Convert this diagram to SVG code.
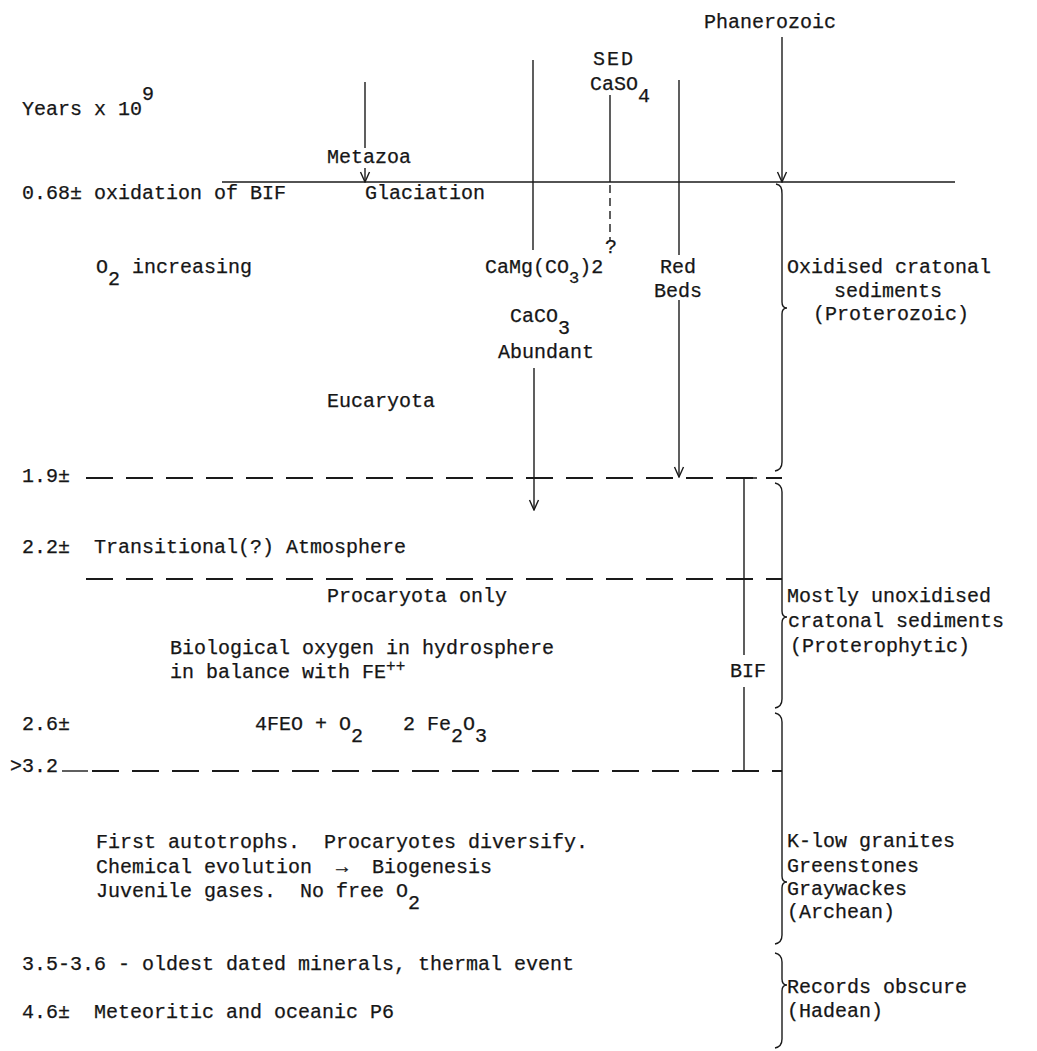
<svg xmlns="http://www.w3.org/2000/svg" width="1037" height="1051" viewBox="0 0 1037 1051" xml:space="preserve">
<style>
.t{font-family:"Liberation Mono","DejaVu Sans Mono",monospace;font-size:20px;fill:#161616;stroke:#161616;stroke-width:0.25;white-space:pre}
.m{text-anchor:middle}
.ln{stroke:#1a1a1a;stroke-width:1.4;fill:none}
.ds{stroke:#1a1a1a;stroke-width:1.8;fill:none;stroke-dasharray:27 13}
.sd{stroke:#1a1a1a;stroke-width:1.4;fill:none;stroke-dasharray:8 5}
.br{stroke:#1a1a1a;stroke-width:1.4;fill:none}
</style>
<defs>
<marker id="arr" viewBox="-11 -6 12 12" refX="0" refY="0" markerWidth="12" markerHeight="12" markerUnits="userSpaceOnUse" orient="auto">
<path d="M-10,-4.5 L0,0 L-10,4.5" fill="none" stroke="#1a1a1a" stroke-width="1.4"/>
</marker>
</defs>
<rect width="1037" height="1051" fill="#fff"/>

<g id="connectors">
<path class="ln" d="M222,182 H955"/>
<path class="ln" d="M365,82 V148"/>
<path class="ln" d="M365,168 V182" marker-end="url(#arr)"/>
<path class="ln" d="M533,60 V250"/>
<path class="ln" d="M610,95 V182"/>
<path class="sd" d="M610,185 V241"/>
<path class="ln" d="M679,80 V255"/>
<path class="ln" d="M679,300 V477" marker-end="url(#arr)"/>
<path class="ln" d="M782,37 V182" marker-end="url(#arr)"/>
<path class="ln" d="M534,368 V510" marker-end="url(#arr)"/>
<path class="ds" d="M86,478 H782"/>
<path class="ds" d="M86,579 H782"/>
<path class="ln" d="M62,771 H88"/>
<path class="ds" d="M92,771 H782"/>
<path class="ln" d="M757,478 H744 V655"/>
<path class="ln" d="M744,687 V771"/>
</g>

<g id="braces">
<path id="brace-proterozoic" class="br" d="M776,184 C781,185 782,188 782,194 L782,302 C782,306 784,308 787,308 C784,308 782,310 782,314 L782,462 C782,467 780,470 775,471"/>
<path id="brace-proterophytic" class="br" d="M775,483 C780,484 782,487 782,492 L782,611 C782,615 784,617 787,617 C784,617 782,619 782,623 L782,699 C782,704 780,707 775,708"/>
<path id="brace-archean" class="br" d="M775,713 C780,714 782,717 782,722 L782,876 C782,880 784,882 787,882 C784,882 782,884 782,888 L782,935 C782,940 780,943 775,944"/>
<path id="brace-hadean" class="br" d="M775,953 C780,954 782,957 782,962 L782,979 C782,983 784,985 787,985 C784,985 782,987 782,991 L782,1039 C782,1044 780,1047 775,1048"/>
</g>

<g id="axis-title"><text class="t" x="22" y="115">Years x 10<tspan dx="0" dy="-15">9</tspan></text></g>
<g id="t068"><text class="t" x="22" y="199">0.68± oxidation of BIF</text></g>
<g id="metazoa"><text class="t" x="327" y="163">Metazoa</text></g>
<g id="glaciation"><text class="t" x="365" y="199">Glaciation</text></g>
<g id="phanerozoic"><text class="t m" x="770" y="28">Phanerozoic</text></g>
<g id="sed-caso4">
<text class="t m" x="614" y="65" letter-spacing="2">SED</text>
<text class="t" x="590" y="90">CaSO<tspan dy="12">4</tspan></text>
<text class="t" x="605" y="253" font-size="16">?</text>
</g>
<g id="o2-increasing"><text class="t" x="96" y="273">O<tspan dy="12">2</tspan><tspan dy="-12"> increasing</tspan></text></g>
<g id="camg"><text class="t" x="485" y="273">CaMg(CO<tspan dy="10" font-size="17">3</tspan><tspan dy="-10">)2</tspan></text></g>
<g id="red-beds">
<text class="t m" x="678" y="273">Red</text>
<text class="t m" x="678" y="297">Beds</text>
</g>
<g id="caco3">
<text class="t" x="510" y="322">CaCO<tspan dy="12">3</tspan></text>
<text class="t" x="498" y="358">Abundant</text>
</g>
<g id="oxidised">
<text class="t" x="787" y="273">Oxidised cratonal</text>
<text class="t" x="834" y="297">sediments</text>
<text class="t" x="813" y="320">(Proterozoic)</text>
</g>
<g id="eucaryota"><text class="t" x="327" y="407">Eucaryota</text></g>
<g id="t19"><text class="t" x="22" y="482">1.9±</text></g>
<g id="t22"><text class="t" x="22" y="553">2.2±  Transitional(?) Atmosphere</text></g>
<g id="procaryota"><text class="t" x="327" y="602">Procaryota only</text></g>
<g id="bio-oxygen">
<text class="t" x="170" y="654">Biological oxygen in hydrosphere</text>
<text class="t" x="170" y="678">in balance with FE<tspan dy="-7" font-size="16">++</tspan></text>
</g>
<g id="unoxidised">
<text class="t" x="787" y="602">Mostly unoxidised</text>
<text class="t" x="788" y="627">cratonal sediments</text>
<text class="t" x="790" y="652">(Proterophytic)</text>
</g>
<g id="bif"><text class="t m" x="748" y="677">BIF</text></g>
<g id="t26">
<text class="t" x="22" y="730">2.6±</text>
<text class="t" x="255" y="730">4FEO + O<tspan dy="12">2</tspan><tspan x="403" dy="-12">2 Fe</tspan><tspan dy="12">2</tspan><tspan dy="-12">O</tspan><tspan dy="12">3</tspan></text>
</g>
<g id="t32"><text class="t" x="10" y="772">&gt;3.2</text></g>
<g id="archean-notes">
<text class="t" x="96" y="848">First autotrophs.  Procaryotes diversify.</text>
<text class="t" x="96" y="873">Chemical evolution  →  Biogenesis</text>
<text class="t" x="96" y="897">Juvenile gases.  No free O<tspan dy="12">2</tspan></text>
</g>
<g id="archean">
<text class="t" x="787" y="847">K-low granites</text>
<text class="t" x="787" y="872">Greenstones</text>
<text class="t" x="787" y="895">Graywackes</text>
<text class="t" x="787" y="918">(Archean)</text>
</g>
<g id="t35"><text class="t" x="22" y="970">3.5-3.6 - oldest dated minerals, thermal event</text></g>
<g id="t46"><text class="t" x="22" y="1018">4.6±  Meteoritic and oceanic P6</text></g>
<g id="hadean">
<text class="t" x="787" y="993">Records obscure</text>
<text class="t" x="787" y="1017">(Hadean)</text>
</g>
</svg>
